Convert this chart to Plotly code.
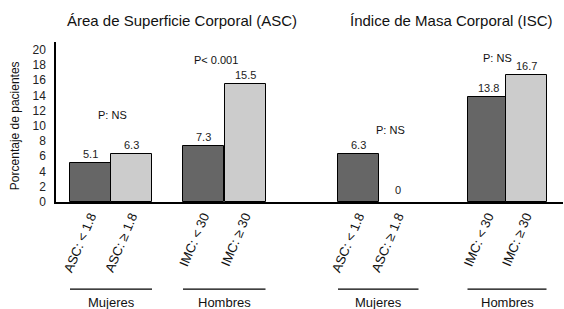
import plotly.graph_objects as go

# ---- data ----
categories = ["ASC: &lt; 1.8", "ASC: ≥ 1.8", "IMC: &lt; 30", "IMC: ≥ 30",
              "ASC: &lt; 1.8", "ASC: ≥ 1.8", "IMC: &lt; 30", "IMC: ≥ 30"]
values = [5.1, 6.3, 7.3, 15.5, 6.3, 0, 13.8, 16.7]
value_labels = ["5.1", "6.3", "7.3", "15.5", "6.3", "0", "13.8", "16.7"]
bar_kind = ["low", "high", "low", "high", "low", "high", "low", "high"]
group_names = ["Mujeres", "Hombres", "Mujeres", "Hombres"]
panel_titles = ["Área de Superficie Corporal (ASC)", "Índice de Masa Corporal (ISC)"]
p_labels = ["P: NS", "P< 0.001", "P: NS", "P: NS"]
y_ticks = list(range(0, 21, 2))

# ---- layout (positions in axis units, 1 unit = 1 px) ----
positions = [34.5, 75.5, 147.5, 189, 302.5, 342, 432, 470]
bar_width = 41
p_pos = [(56, 11.4), (160, 18.6), (334, 9.4), (441, 18.9)]
title_x = [126, 395]

colors = {"low": "#666666", "high": "#cccccc"}
FONT = "Liberation Sans"

fig = go.Figure()
fig.add_trace(go.Bar(
    x=positions, y=values, width=bar_width,
    marker=dict(color=[colors[k] for k in bar_kind],
                line=dict(color="black", width=[1 if v > 0 else 0 for v in values])),
    showlegend=False, hoverinfo="skip",
))

annotations = []
for x, v, t in zip(positions, values, value_labels):
    annotations.append(dict(x=x, y=v, text=t, showarrow=False, xref="x", yref="y",
                            yanchor="bottom", yshift=1 if v > 0 else 4,
                            font=dict(size=11, color="#222")))
for (x, y), t in zip(p_pos, p_labels):
    annotations.append(dict(x=x, y=y, text=t, showarrow=False, xref="x", yref="y",
                            yanchor="middle", font=dict(size=11, color="#111")))
for x, t in zip(title_x, panel_titles):
    annotations.append(dict(x=x, y=1.1375, text=t, showarrow=False, xref="x", yref="paper",
                            yanchor="middle", font=dict(size=15, color="#111")))
annotations.append(dict(x=-0.081, y=0.48, text="Porcentaje de pacientes", textangle=-90,
                        xanchor="center", yanchor="middle",
                        showarrow=False, xref="paper", yref="paper",
                        font=dict(size=12, color="#111")))

shapes = []
for i, g in enumerate(group_names):
    left = positions[2 * i] - bar_width / 2
    right = positions[2 * i + 1] + bar_width / 2
    shapes.append(dict(type="line", xref="x", yref="paper", x0=left, x1=right,
                       y0=-0.544, y1=-0.544, line=dict(color="black", width=1.3)))
    annotations.append(dict(x=(left + right) / 2, y=-0.625, text=g, showarrow=False,
                            xref="x", yref="paper", yanchor="middle",
                            font=dict(size=13, color="#111")))

fig.update_layout(
    width=564, height=309,
    margin=dict(l=56, r=1, t=42, b=107, autoexpand=False),
    plot_bgcolor="white", paper_bgcolor="white",
    font=dict(family=FONT, color="#111"),
    annotations=annotations, shapes=shapes,
    bargap=0,
    xaxis=dict(range=[0, 507], tickvals=positions, ticktext=categories, tickangle=-67,
               automargin=False,
               showline=True, linecolor="black", linewidth=1.5, showgrid=False,
               zeroline=False, ticks="", tickfont=dict(size=13, color="#111")),
    yaxis=dict(range=[0, 21], tickvals=y_ticks, showline=True, linecolor="black",
               automargin=False,
               linewidth=1.5, showgrid=False, zeroline=False, ticks="",
               ticklabelstandoff=6, tickfont=dict(size=12, color="#222")),
)

fig.write_html("out.html", config={"displayModeBar": False},
               post_script="document.body.style.margin='0';document.body.style.overflow='hidden';")
